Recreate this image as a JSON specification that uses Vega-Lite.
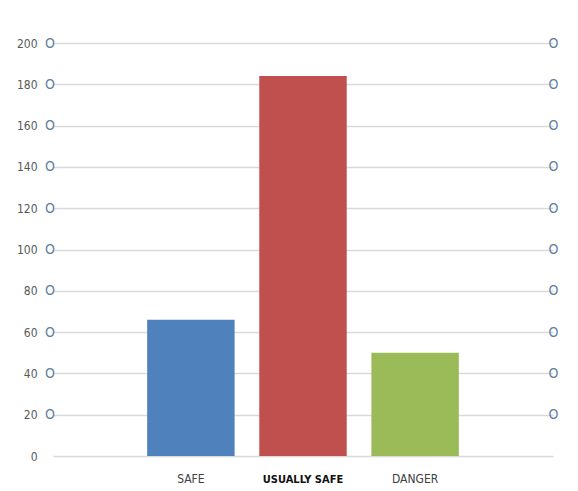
{
  "$schema": "https://vega.github.io/schema/vega-lite/v6.json",
  "width": 500,
  "height": 413,
  "autosize": "none",
  "padding": {"left": 53, "top": 43, "right": 25, "bottom": 35},
  "background": "white",
  "config": {
    "view": {"stroke": null},
    "font": "DejaVu Sans Condensed"
  },
  "data": {
    "values": [
      {"category": "SAFE", "count": 66},
      {"category": "USUALLY SAFE", "count": 184},
      {"category": "DANGER", "count": 50}
    ]
  },
  "encoding": {
    "x": {
      "field": "category",
      "type": "nominal",
      "sort": null,
      "scale": {"paddingInner": 0.22, "paddingOuter": 0.84},
      "axis": {
        "title": null,
        "domain": false,
        "ticks": false,
        "labelAngle": 0,
        "labelPadding": 17,
        "labelFontSize": {"expr": "datum.value == 'USUALLY SAFE' ? 11 : 12"},
        "labelColor": {"expr": "datum.value == 'USUALLY SAFE' ? '#111111' : '#404040'"},
        "labelFontWeight": {"expr": "datum.value == 'USUALLY SAFE' ? 'bold' : 'normal'"},
        "encode": {
          "labels": {
            "update": {"dy": {"signal": "datum.value == 'USUALLY SAFE' ? -4 : 0"}}
          }
        }
      }
    }
  },
  "layer": [
    {
      "mark": {"type": "bar"},
      "encoding": {
        "y": {
          "field": "count",
          "type": "quantitative",
          "scale": {"domain": [0, 200], "nice": false},
          "axis": {
            "orient": "left",
            "title": null,
            "values": [0, 20, 40, 60, 80, 100, 120, 140, 160, 180, 200],
            "domain": false,
            "ticks": false,
            "grid": true,
            "gridColor": "#d9d9d9",
            "gridWidth": 1.5,
            "labelPadding": 16,
            "labelFontSize": 12,
            "labelColor": "#595959"
          }
        },
        "color": {
          "field": "category",
          "type": "nominal",
          "scale": {
            "domain": ["SAFE", "USUALLY SAFE", "DANGER"],
            "range": ["#4f81bd", "#c0504d", "#9bbb59"]
          },
          "legend": null
        }
      }
    },
    {
      "mark": {"type": "bar", "opacity": 0},
      "encoding": {
        "y": {
          "field": "count",
          "type": "quantitative",
          "axis": {
            "orient": "left",
            "title": null,
            "values": [20, 40, 60, 80, 100, 120, 140, 160, 180, 200],
            "labelExpr": "'O'",
            "domain": false,
            "ticks": false,
            "grid": false,
            "labelAlign": "center",
            "labelPadding": 3.5,
            "labelFontSize": 14,
            "labelColor": "#5f80a3"
          }
        }
      }
    },
    {
      "mark": {"type": "bar", "opacity": 0},
      "encoding": {
        "y": {
          "field": "count",
          "type": "quantitative",
          "axis": {
            "orient": "right",
            "title": null,
            "values": [20, 40, 60, 80, 100, 120, 140, 160, 180, 200],
            "labelExpr": "'O'",
            "domain": false,
            "ticks": false,
            "grid": false,
            "labelAlign": "center",
            "labelPadding": 0,
            "labelFontSize": 14,
            "labelColor": "#5f80a3"
          }
        }
      }
    }
  ],
  "resolve": {"axis": {"y": "independent"}}
}
